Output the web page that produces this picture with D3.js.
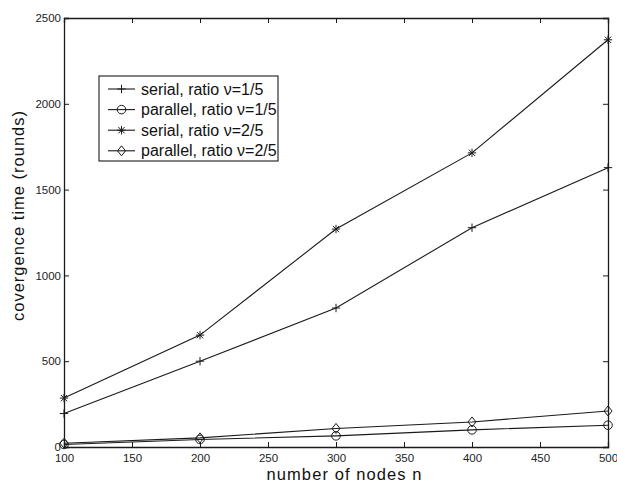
<!DOCTYPE html>
<html><head><meta charset="utf-8">
<script src="https://cdn.jsdelivr.net/npm/d3@7"></script>
<style>body{margin:0;background:#fff;} text{font-family:"Liberation Sans",Arial,sans-serif;}</style>
</head><body>
<svg id="c" width="617" height="482"></svg>
<script>
const nodes = [100, 200, 300, 400, 500];
const serial15 = [195, 500, 810, 1278, 1628];
const parallel15 = [15, 44, 65, 100, 127];
const serial25 = [285, 652, 1270, 1714, 2373];
const parallel25 = [22, 53, 108, 146, 210];
const seriesNames = ["serial, ratio \u03bd=1/5", "parallel, ratio \u03bd=1/5", "serial, ratio \u03bd=2/5", "parallel, ratio \u03bd=2/5"];
const markers = ["plus", "circle", "star", "diamond"];
const xTicks = [100, 150, 200, 250, 300, 350, 400, 450, 500];
const yTicks = [0, 500, 1000, 1500, 2000, 2500];

const series = [serial15, parallel15, serial25, parallel25];
const svg = d3.select("#c");
const L = 64, R = 608, T = 18, B = 447;
const x = d3.scaleLinear().domain([100, 500]).range([L, R]);
const y = d3.scaleLinear().domain([0, 2500]).range([B, T]);
const col = "#1a1a1a";

// axes
const tl = 5;
svg.append("g").attr("transform", `translate(0,${B})`)
  .call(d3.axisBottom(x).tickValues(xTicks).tickSize(-tl).tickPadding(6.5).tickFormat(d3.format("d")));
svg.append("g").attr("transform", `translate(0,${T})`)
  .call(d3.axisTop(x).tickValues(xTicks).tickSize(-tl).tickFormat(""));
svg.append("g").attr("transform", `translate(${L},0)`)
  .call(d3.axisLeft(y).tickValues(yTicks).tickSize(-tl).tickPadding(3).tickFormat(d3.format("d")));
svg.append("g").attr("transform", `translate(${R},0)`)
  .call(d3.axisRight(y).tickValues(yTicks).tickSize(-tl).tickFormat(""));
svg.selectAll(".domain").attr("stroke", col).attr("stroke-width", 1.3);
svg.selectAll(".tick line").attr("stroke", col);
svg.selectAll(".tick text").attr("font-size", 11.5).attr("fill", "#222")
  .style("font-family", "'Liberation Sans',Arial,sans-serif");

// axis labels
svg.append("text").attr("x", 344).attr("y", 479.5).attr("text-anchor", "middle")
  .attr("font-size", 16.5).attr("textLength", 155).attr("lengthAdjust", "spacing")
  .attr("fill", "#111").text("number of nodes n");
svg.append("text").attr("transform", `translate(23.5,216) rotate(-90)`)
  .attr("text-anchor", "middle").attr("font-size", 16.5).attr("textLength", 210).attr("lengthAdjust", "spacing")
  .attr("fill", "#111").text("covergence time (rounds)");

function drawMarker(g, type, cx, cy) {
  const s = 4.2;
  if (type === "plus") {
    g.append("path").attr("d", `M${cx - s},${cy}H${cx + s}M${cx},${cy - s}V${cy + s}`)
      .attr("stroke", col).attr("fill", "none");
  } else if (type === "circle") {
    g.append("circle").attr("cx", cx).attr("cy", cy).attr("r", 4.3)
      .attr("stroke", col).attr("fill", "none");
  } else if (type === "star") {
    const d = s * 0.75;
    g.append("path").attr("d", `M${cx - s},${cy}H${cx + s}M${cx},${cy - s}V${cy + s}M${cx - d},${cy - d}L${cx + d},${cy + d}M${cx - d},${cy + d}L${cx + d},${cy - d}`)
      .attr("stroke", col).attr("fill", "none");
  } else if (type === "diamond") {
    const r = 5;
    g.append("path").attr("d", `M${cx},${cy - r}L${cx + r * 0.8},${cy}L${cx},${cy + r}L${cx - r * 0.8},${cy}Z`)
      .attr("stroke", col).attr("fill", "none");
  }
}

const line = d3.line().x((d, i) => x(nodes[i])).y(d => y(d));
series.forEach((vals, k) => {
  const g = svg.append("g");
  g.append("path").datum(vals).attr("d", line).attr("fill", "none")
    .attr("stroke", col).attr("stroke-width", 1.1);
  vals.forEach((v, i) => drawMarker(g, markers[k], x(nodes[i]), y(v)));
});

// legend
const lg = svg.append("g");
lg.append("rect").attr("x", 99).attr("y", 76).attr("width", 179).attr("height", 85)
  .attr("fill", "#fff").attr("stroke", col).attr("stroke-width", 1.1);
seriesNames.forEach((name, k) => {
  const yy = 89 + k * 20.6;
  lg.append("line").attr("x1", 108).attr("x2", 135).attr("y1", yy).attr("y2", yy)
    .attr("stroke", col).attr("stroke-width", 1.1);
  drawMarker(lg, markers[k], 121.5, yy);
  lg.append("text").attr("x", 141).attr("y", yy + 5.5).attr("font-size", 16)
    .attr("fill", "#111").text(name);
});
</script>
</body></html>
